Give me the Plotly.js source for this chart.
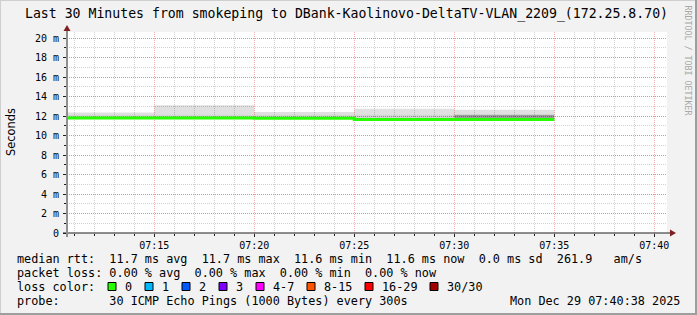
<!DOCTYPE html>
<html><head><meta charset="utf-8">
<script src="https://cdn.plot.ly/plotly-3.0.1.min.js"></script>
<style>html,body{margin:0;padding:0;background:#f2f2f2;} #chart{width:697px;height:315px;}</style>
</head><body><div id="chart"></div>
<script>
// ---- data ----
const seriesStart = "2025-12-29 07:10:00";
const intervalEnds = ["2025-12-29 07:15:00","2025-12-29 07:20:00","2025-12-29 07:25:00","2025-12-29 07:30:00","2025-12-29 07:35:00"];
const medianRtt = [11.79, 11.79, 11.77, 11.64, 11.64];
const smokeDark = [11.79, 11.79, 11.77, 11.64, 12.12];
const smokeMid  = [12.13, 12.13, 12.13, 12.13, 12.13];
const smokeTop  = [12.37, 13.10, 12.42, 12.74, 12.65];
const viewStart = "2025-12-29 07:10:38";
const viewEnd   = "2025-12-29 07:40:38";
const yTickVals = [0, 2, 4, 6, 8, 10, 12, 14, 16, 18, 20];
const yTickText = ["0", "2 m", "4 m", "6 m", "8 m", "10 m", "12 m", "14 m", "16 m", "18 m", "20 m"];
const statLabels = ["avg", "max", "min", "now"];
const rttStats = [11.7, 11.7, 11.6, 11.6];
const rttSd = 0.0;
const amPerS = 261.9;
const lossStats = [0.00, 0.00, 0.00, 0.00];
const lossColorLabels = ["0", "1", "2", "3", "4-7", "8-15", "16-29", "30/30"];
const lossColors = ["#26ff00", "#00b8ff", "#0059ff", "#7e00ff", "#ff00ff", "#ff5500", "#ff0000", "#a00000"];
const titleText = "Last 30 Minutes from smokeping to DBank-Kaolinovo-DeltaTV-VLAN_2209_(172.25.8.70)";
const probeText = "probe:       30 ICMP Echo Pings (1000 Bytes) every 300s";
const dateText = "Mon Dec 29 07:40:38 2025";

// ---- geometry helpers (pixel -> paper) ----
const L = 67, T = 32, W = 600, H = 201;
const xp = px => (px - L) / W;
const yp = py => (T + H - py) / H;
const nb = s => s.replace(/ /g, "\u00A0");

const xs = [seriesStart].concat(intervalEnds);
const stepY = arr => [arr[0]].concat(arr);

const traces = [
  {x: xs, y: stepY(medianRtt), type: 'scatter', mode: 'lines', line: {width: 0, shape: 'vh'}, hoverinfo: 'skip'},
  {x: xs, y: stepY(smokeDark), type: 'scatter', mode: 'lines', line: {width: 0, shape: 'vh'}, fill: 'tonexty', fillcolor: 'rgba(0,0,0,0.38)', hoverinfo: 'skip'},
  {x: xs, y: stepY(smokeMid), type: 'scatter', mode: 'lines', line: {width: 0, shape: 'vh'}, fill: 'tonexty', fillcolor: 'rgba(0,0,0,0.17)', hoverinfo: 'skip'},
  {x: xs, y: stepY(smokeTop), type: 'scatter', mode: 'lines', line: {width: 0, shape: 'vh'}, fill: 'tonexty', fillcolor: 'rgba(0,0,0,0.12)', hoverinfo: 'skip'},
  {x: xs, y: stepY(medianRtt), type: 'scatter', mode: 'lines', line: {width: 3, shape: 'vh', color: '#26ff00'}, hoverinfo: 'skip'}
];

const grid = 'rgba(143,143,143,0.4)';
const mgrid = 'rgba(222,79,79,0.45)';
const mono = 'DejaVu Sans Mono, monospace';

const row1 = "median rtt:  " + rttStats.map((v, i) => v.toFixed(1) + " ms " + statLabels[i]).join("  ") +
  "  " + rttSd.toFixed(1) + " ms sd  " + amPerS.toFixed(1) + "   am/s";
const row2 = "packet loss: " + lossStats.map((v, i) => v.toFixed(2) + " % " + statLabels[i]).join("  ");

const annotations = [];
const shapes = [];
const txt = (text, x, y, opts) => Object.assign({
  text: nb(text), x: xp(x), y: yp(y), xref: 'paper', yref: 'paper', showarrow: false,
  xanchor: 'left', yanchor: 'middle', font: {family: mono, size: 11.8, color: '#000'}
}, opts || {});

annotations.push(txt(row1, 15, 259));
annotations.push(txt(row2, 15, 273));
annotations.push(txt("loss color:", 15, 287));
annotations.push(txt(probeText, 15, 301));
annotations.push(txt(dateText, 682, 301, {xanchor: 'right'}));
annotations.push({text: 'Seconds', x: xp(11), y: yp(132), xref: 'paper', yref: 'paper', showarrow: false,
  textangle: -90, xanchor: 'center', yanchor: 'middle', font: {family: 'DejaVu Sans, sans-serif', size: 11.4, color: '#000'}});
annotations.push({text: nb('RRDTOOL / TOBI OETIKER'), x: xp(687.5), y: yp(60), xref: 'paper', yref: 'paper', showarrow: false,
  textangle: 90, xanchor: 'center', yanchor: 'middle', font: {family: mono, size: 8.3, color: '#a8a8a8'}});

let bx = 108;
lossColorLabels.forEach((lab, i) => {
  shapes.push({type: 'rect', xref: 'paper', yref: 'paper', x0: xp(bx), x1: xp(bx + 8), y0: yp(290.5), y1: yp(282.5),
    fillcolor: lossColors[i], line: {color: '#000', width: 1}, layer: 'above'});
  annotations.push(txt(lab, bx + 14.5, 287));
  bx += 30 + 7 * lab.length;
});

// axis lines and arrows
shapes.push({type: 'line', xref: 'paper', yref: 'paper', x0: xp(63), x1: xp(671), y0: yp(233), y1: yp(233), line: {color: '#1f1f1f', width: 1}, layer: 'above'});
shapes.push({type: 'line', xref: 'paper', yref: 'paper', x0: xp(67), x1: xp(67), y0: yp(237), y1: yp(30), line: {color: '#8f8f8f', width: 2}, layer: 'above'});
const tri = pts => 'M ' + pts.map(p => xp(p[0]) + ' ' + yp(p[1])).join(' L ') + ' Z';
shapes.push({type: 'path', xref: 'paper', yref: 'paper', path: tri([[670, 229.5], [676, 233], [670, 236.5]]), fillcolor: '#801f1f', line: {color: '#801f1f', width: 0}, layer: 'above'});
shapes.push({type: 'path', xref: 'paper', yref: 'paper', path: tri([[63.5, 31], [67, 25], [70.5, 31]]), fillcolor: '#801f1f', line: {color: '#801f1f', width: 0}, layer: 'above'});
// frame
shapes.push({type: 'line', xref: 'paper', yref: 'paper', x0: xp(0), x1: xp(697), y0: yp(0.5), y1: yp(0.5), line: {color: '#cfcfcf', width: 1}});
shapes.push({type: 'line', xref: 'paper', yref: 'paper', x0: xp(0.5), x1: xp(0.5), y0: yp(0), y1: yp(315), line: {color: '#cfcfcf', width: 1}});
shapes.push({type: 'line', xref: 'paper', yref: 'paper', x0: xp(0), x1: xp(697), y0: yp(314), y1: yp(314), line: {color: '#9e9e9e', width: 2}});
shapes.push({type: 'line', xref: 'paper', yref: 'paper', x0: xp(696), x1: xp(696), y0: yp(0), y1: yp(315), line: {color: '#9e9e9e', width: 2}});

const layout = {
  width: 697, height: 315,
  margin: {l: L, r: 697 - L - W, t: T, b: 315 - T - H, pad: 0},
  paper_bgcolor: '#f2f2f2', plot_bgcolor: '#ffffff',
  showlegend: false,
  font: {family: mono, size: 10, color: '#000'},
  title: {text: titleText, font: {family: mono, size: 13.2, color: '#000'}, xref: 'container', yref: 'container',
    x: 346.5 / 697, xanchor: 'center', y: 1 - 13.5 / 315, yanchor: 'middle'},
  xaxis: {
    type: 'date', range: [viewStart, viewEnd], tickmode: 'linear', tick0: '2025-12-29 07:00:00', dtick: 300000,
    tickformat: '%H:%M', showgrid: true, gridcolor: mgrid, griddash: '1px,1px', gridwidth: 1,
    ticks: 'outside', ticklen: 3, tickcolor: '#1f1f1f', showline: false, zeroline: false,
    tickfont: {family: mono, size: 10, color: '#000'}, fixedrange: true,
    minor: {tickmode: 'linear', tick0: '2025-12-29 07:00:00', dtick: 60000, showgrid: true, gridcolor: grid, griddash: '1px,1px', ticks: 'outside', ticklen: 2, tickcolor: '#1f1f1f'}
  },
  yaxis: {
    range: [0, H / 9.75], tickmode: 'array', tickvals: yTickVals, ticktext: yTickText,
    showgrid: true, gridcolor: mgrid, griddash: '1px,1px', gridwidth: 1,
    ticks: 'outside', ticklen: 3, tickcolor: '#1f1f1f', showline: false, zeroline: false,
    ticklabelstandoff: 2,
    tickfont: {family: mono, size: 10, color: '#000'}, fixedrange: true,
    minor: {tickmode: 'linear', tick0: 0, dtick: 1, showgrid: true, gridcolor: grid, griddash: '1px,1px', ticks: 'outside', ticklen: 2, tickcolor: '#1f1f1f'}
  },
  annotations: annotations,
  shapes: shapes
};

Plotly.newPlot('chart', traces, layout, {displayModeBar: false, staticPlot: true});
</script>
</body></html>
